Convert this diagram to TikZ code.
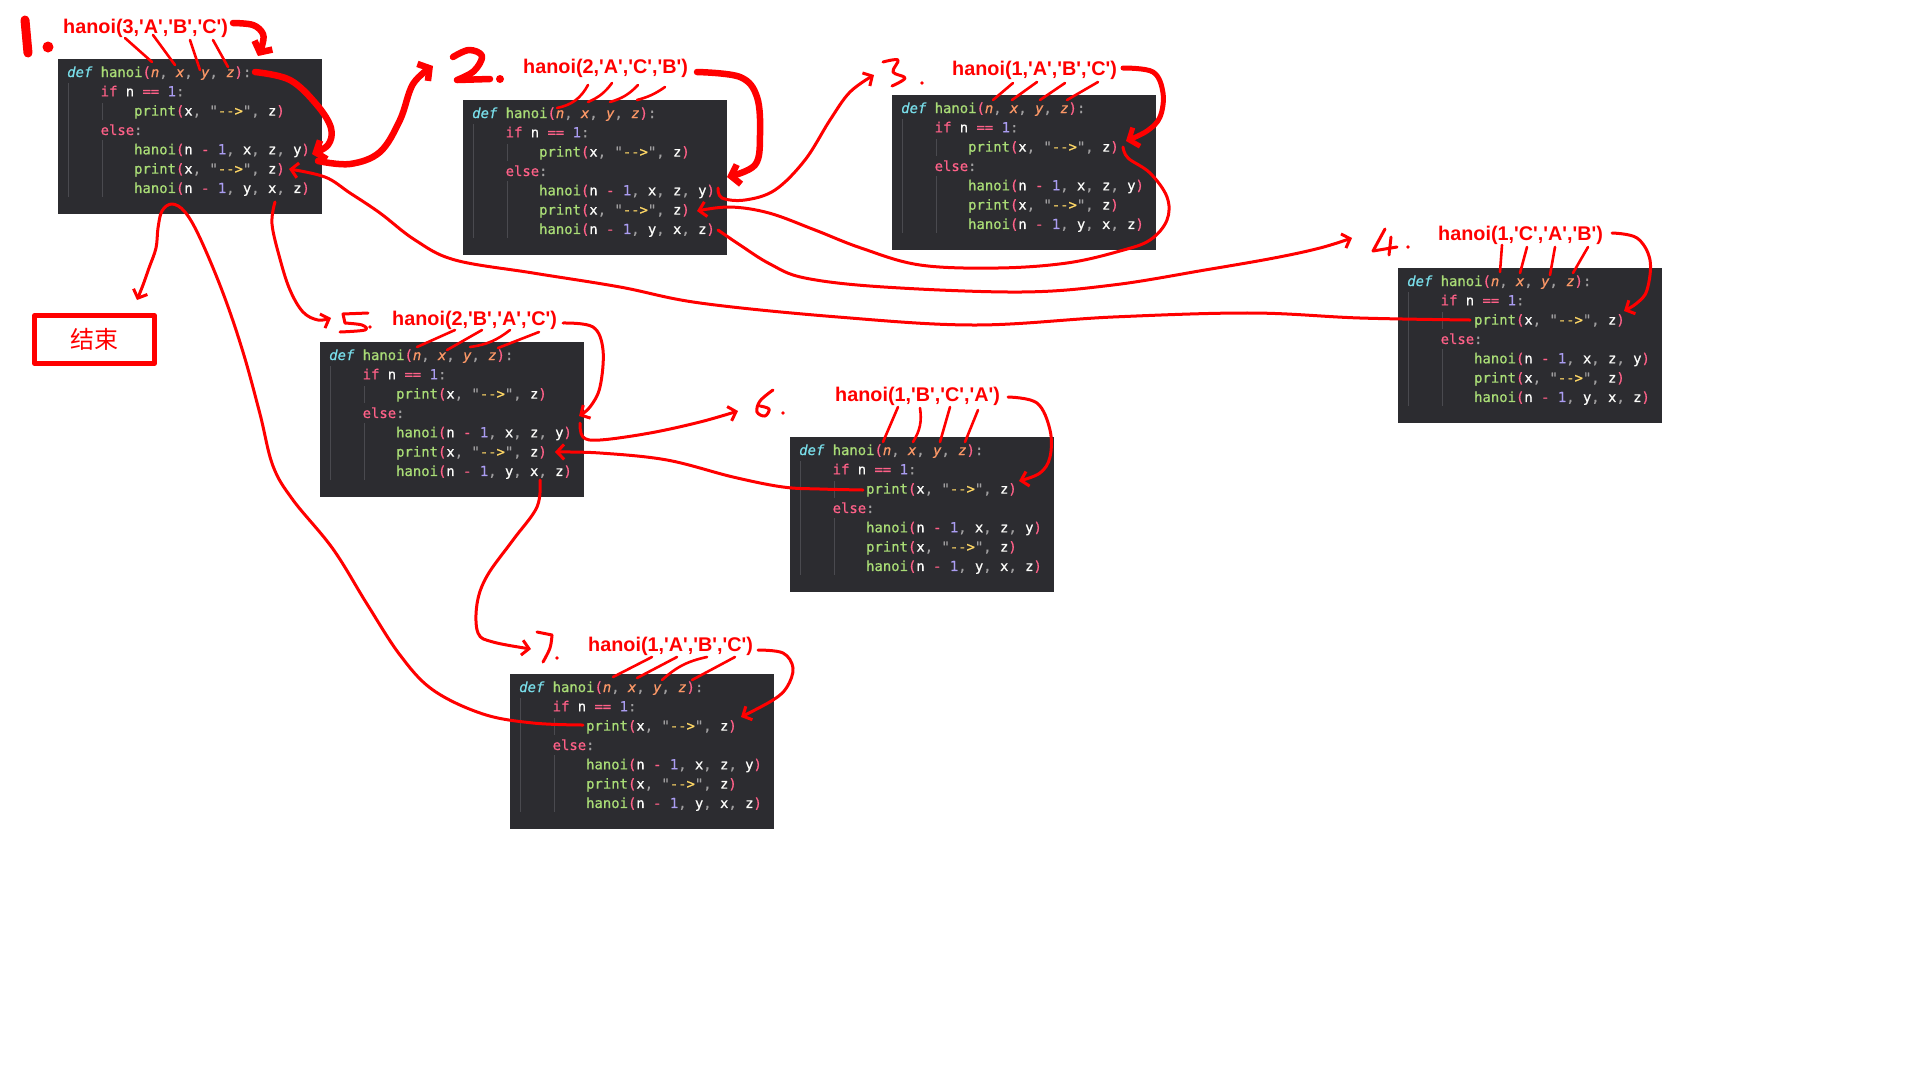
\documentclass[tikz,border=0pt]{standalone}
\usepackage{fontspec}
\usepackage{tikz}
\usetikzlibrary{arrows.meta,calc}
\newfontfamily\codefont{DejaVu Sans Mono}[FakeBold=0.7]
\newfontfamily\lblfont{Liberation Sans}
\newfontfamily\cjkfont{Noto Sans CJK SC}
\definecolor{codebg}{HTML}{2C2C30}
\definecolor{cfg}{HTML}{FCFCFA}
\definecolor{cred}{HTML}{FF6188}
\definecolor{corange}{HTML}{FC9867}
\definecolor{cyellow}{HTML}{FFD866}
\definecolor{cgreen}{HTML}{A9DC76}
\definecolor{cblue}{HTML}{78DCE8}
\definecolor{cpurple}{HTML}{AB9DF2}
\definecolor{cgray}{HTML}{A09FA0}
\definecolor{guidegray}{HTML}{4A4A4F}
\newlength\cwid
\newcommand\hkw[1]{{\itshape\color{cblue}#1}}
\newcommand\hfn[1]{{\color{cgreen}#1}}
\newcommand\hpa[1]{{\color{cred}#1}}
\newcommand\harg[1]{{\itshape\color{corange}#1}}
\newcommand\hop[1]{{\color{cred}#1}}
\newcommand\hnum[1]{{\color{cpurple}#1}}
\newcommand\hcm{{\color{cgray},}}
\newcommand\hcol{{\color{cgray}:}}
\newcommand\hstr{{\color{cgray}"}{\color{cyellow}-{}->}{\color{cgray}"}}
\newcommand\hind[1]{\hspace*{#1\cwid}}
\newcommand\hanoicode{\vtop{\settowidth{\cwid}{x}\baselineskip=19.33pt
	\hbox{\hkw{def} \hfn{hanoi}\hpa{(}\harg{n}\hcm{} \harg{x}\hcm{} \harg{y}\hcm{} \harg{z}\hpa{)}\hcol{}}
	\hbox{\hind{4}\hop{if} n \hop{==} \hnum{1}\hcol{}}
	\hbox{\hind{8}\hfn{print}\hpa{(}x\hcm{} \hstr\hcm{} z\hpa{)}}
	\hbox{\hind{4}\hop{else}\hcol{}}
	\hbox{\hind{8}\hfn{hanoi}\hpa{(}n \hop{-} \hnum{1}\hcm{} x\hcm{} z\hcm{} y\hpa{)}}
	\hbox{\hind{8}\hfn{print}\hpa{(}x\hcm{} \hstr\hcm{} z\hpa{)}}
	\hbox{\hind{8}\hfn{hanoi}\hpa{(}n \hop{-} \hnum{1}\hcm{} y\hcm{} x\hcm{} z\hpa{)}}}}

\begin{document}
\begin{tikzpicture}[x={(1pt,0pt)},y={(0pt,-1pt)},
		>={Straight Barb[length=7pt,width=15pt]},line cap=round,line join=round]
		\tikzstyle{codebox}=[fill=codebg,anchor=north west,inner sep=0pt,
			minimum width=264pt,minimum height=155pt]
		\tikzstyle{code}=[anchor=base west,inner sep=0pt,text=cfg,
			font=\codefont\fontsize{13.9}{19.33}\selectfont]
		\tikzstyle{call}=[anchor=base west,inner sep=0pt,text=red,
			font=\lblfont\bfseries\fontsize{19.8}{24}\selectfont]
		\tikzstyle{finbox}=[draw=red,line width=4.5pt,minimum width=120pt,minimum height=48pt,
			text=red,font=\cjkfont\fontsize{24}{28}\selectfont]
		\tikzstyle{guide}=[draw=guidegray,line width=1pt,line cap=butt]
		\tikzstyle{pen}=[draw=red,line width=3pt]
		\tikzstyle{fatpen}=[draw=red,line width=6.5pt]
		\tikzstyle{tie}=[draw=red,line width=2.6pt]
		\tikzstyle{fatarrow}=[-{Straight Barb[length=8pt,width=20pt]}]

		\fill[white] (0,0) rectangle (1920,1080);
		\useasboundingbox (0,0) rectangle (1920,1080);

		\node[codebox] (b1) at (58,59) {};
		\node[codebox] (b2) at (463,100) {};
		\node[codebox] (b3) at (892,95) {};
		\node[codebox] (b4) at (1398,268) {};
		\node[codebox] (b5) at (320,342) {};
		\node[codebox] (b6) at (790,437) {};
		\node[codebox] (b7) at (510,674) {};
		\foreach \i in {1,...,7}{
			\node[code] (c\i) at ($(b\i.north west)+(9,18)$) {\hanoicode};
			\draw[guide] ($(b\i.north west)+(10,24)$) -- ++(0,114);
			\draw[guide] ($(b\i.north west)+(44,44)$) -- ++(0,17);
			\draw[guide] ($(b\i.north west)+(44,81)$) -- ++(0,57);
		}

		\node[call] (l1) at (63,33) {hanoi(3,'A','B','C')};
		\node[call] (l2) at (523,73) {hanoi(2,'A','C','B')};
		\node[call] (l3) at (952,75) {hanoi(1,'A','B','C')};
		\node[call] (l4) at (1438,240) {hanoi(1,'C','A','B')};
		\node[call] (l5) at (392,325) {hanoi(2,'B','A','C')};
		\node[call] (l6) at (835,401) {hanoi(1,'B','C','A')};
		\node[call] (l7) at (588,651) {hanoi(1,'A','B','C')};

		\node[finbox] (fin) at (94.5,339.5) {结束};

		\draw[tie] (125,38) -- (152,62);
		\draw[tie] (153,35) -- (175,65);
		\draw[tie] (190,40) -- (200,70);
		\draw[tie] (213,40) -- (228,67);
		\draw[tie] (588,85) to[bend left=25] (557,108);
		\draw[tie] (612,83) to[bend left=15] (588,102);
		\draw[tie] (638,85) to[bend left=15] (610,102);
		\draw[tie] (665,87) to[bend left=10] (637,100);
		\draw[tie] (1013,83) -- (993,100);
		\draw[tie] (1037,82) -- (1012,100);
		\draw[tie] (1065,83) -- (1040,100);
		\draw[tie] (1098,82) -- (1067,100);
		\draw[tie] (1502,245) -- (1500,272);
		\draw[tie] (1527,247) -- (1520,273);
		\draw[tie] (1555,247) -- (1550,275);
		\draw[tie] (1588,247) -- (1573,273);
		\draw[tie] (455,330) -- (417,347);
		\draw[tie] (482,330) -- (447,350);
		\draw[tie] (510,330) to[bend left=15] (470,347);
		\draw[tie] (539,332) -- (498,348);
		\draw[tie] (898,407) -- (883,442);
		\draw[tie] (920,408) to[bend left=20] (913,442);
		\draw[tie] (950,407) -- (940,442);
		\draw[tie] (978,410) -- (965,442);
		\draw[tie] (652,657) -- (613,677);
		\draw[tie] (677,657) -- (637,678);
		\draw[tie] (707,657) to[bend right=15] (662,680);
		\draw[tie] (735,657) -- (692,680);

		\draw[fatpen,line width=9pt] (25,20) -- (28,53);
		\fill[red] (48,47) circle (5.5pt);
		\draw[fatpen] plot[smooth,tension=0.6] coordinates {(453,57) (469,50) (482,56) (474,71) (457,80)} -- (490,79);
		\fill[red] (500,79) circle (4pt);
		\draw[pen] plot[smooth,tension=0.6] coordinates {(883,62) (898,60) (893,72) (905,78) (892,86)};
		\fill[red] (922,83) circle (1.8pt);
		\draw[pen] (1385,229) -- (1373,251) -- (1397,247);
		\draw[pen] (1391,237) -- (1389,255);
		\fill[red] (1408,247) circle (1.8pt);
		\draw[pen] (368,313) -- (343,314) -- (345,323);
		\draw[pen] plot[smooth,tension=0.6] coordinates {(345,323) (362,325) (365,330) (340,332)};
		\fill[red] (370,327) circle (1.8pt);
		\draw[pen] plot[smooth,tension=0.6] coordinates {(773,390) (760,401) (757,412) (765,416) (769,409) (760,406)};
		\fill[red] (783,413) circle (1.8pt);
		\draw[pen] (537,632) -- (552,635);
		\draw[pen] plot[smooth,tension=0.6] coordinates {(552,635) (550,648) (543,662)};
		\fill[red] (557,658) circle (1.8pt);

		\draw[fatpen,fatarrow] plot[smooth,tension=0.6] coordinates {(233,23) (253,25) (263,34) (262,46) (258,56)};
		\draw[fatpen,fatarrow] plot[smooth,tension=0.6] coordinates {(255,72) (290,80) (317,105) (331,128) (328,145) (312,154)};
		\draw[fatpen,fatarrow] plot[smooth,tension=0.6] coordinates {(318,161) (350,164) (380,152) (400,120) (413,84) (433,66)};
		\draw[fatpen,fatarrow] plot[smooth,tension=0.6] coordinates {(697,72) (740,77) (757,97) (760,135) (755,165) (727,177)};
		\draw[fatpen,line width=5pt,fatarrow] plot[smooth,tension=0.6] coordinates {(1123,68) (1153,72) (1163,93) (1160,117) (1147,131) (1126,141)};

		\draw[pen,->] plot[smooth,tension=0.6] coordinates {(718,188) (722,198) (745,200) (775,190) (805,160) (830,120) (850,92) (874,75)};
		\draw[pen,->] plot[smooth,tension=0.6] coordinates {(1123,147) (1128,158) (1150,173) (1167,197) (1167,220) (1150,240) (1120,251) (1067,263) (998,268) (920,265) (861,248) (815,230) (769,213) (730,207) (697,211)};
		\draw[pen,->] plot[smooth,tension=0.6] coordinates {(718,230) (740,245) (770,264) (805,278) (884,287) (1021,292) (1113,285) (1205,270) (1274,258) (1320,248) (1352,238)};
		\draw[pen,->] plot[smooth,tension=0.6] coordinates {(1612,233) (1637,238) (1650,260) (1647,290) (1637,303) (1624,311)};
		\draw[pen,->] plot[smooth,tension=0.6] coordinates {(1470,320) (1360,318) (1251,313) (1113,317) (975,325) (838,317) (700,303) (620,287) (533,273) (455,260) (415,240) (380,213) (350,193) (325,177) (289,169)};
		\draw[pen,->] plot[smooth,tension=0.6] coordinates {(583,725) (533,723) (483,714) (433,690) (400,655) (367,604) (333,549) (293,500) (273,466) (260,414) (243,352) (223,293) (200,238) (185,212) (172,204) (162,211) (158,228) (156,248) (149,268) (143,285) (137,300)};
		\draw[pen,->] plot[smooth,tension=0.6] coordinates {(275,202) (272,224) (280,259) (290,290) (303,312) (318,320) (331,318)};
		\draw[pen,->] plot[smooth,tension=0.6] coordinates {(563,323) (593,327) (603,350) (600,387) (590,407) (579,416)};
		\draw[pen,->] plot[smooth,tension=0.6] coordinates {(580,423) (583,437) (600,440) (650,433) (700,422) (738,411)};
		\draw[pen,->] plot[smooth,tension=0.6] coordinates {(1008,397) (1037,403) (1050,430) (1050,457) (1040,473) (1019,481)};
		\draw[pen,->] plot[smooth,tension=0.6] coordinates {(863,490) (820,489) (783,487) (733,477) (667,460) (600,453) (555,452)};
		\draw[pen,->] plot[smooth,tension=0.6] coordinates {(540,480) (537,507) (513,540) (487,576) (477,604) (478,633) (493,642) (531,649)};
		\draw[pen,->] plot[smooth,tension=0.6] coordinates {(758,650) (783,653) (793,668) (787,687) (773,700) (741,717)};
\end{tikzpicture}
\end{document}
